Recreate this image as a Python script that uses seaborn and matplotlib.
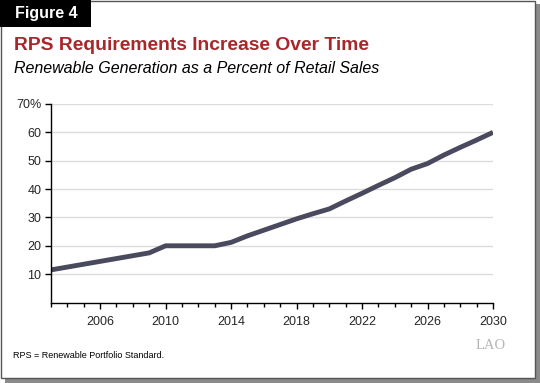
import matplotlib
matplotlib.use("Agg")
import matplotlib.pyplot as plt
import matplotlib.patches as mpatches
from matplotlib.ticker import MultipleLocator, FuncFormatter
import seaborn as sns
import pandas as pd

# DATA
years = [2003, 2004, 2005, 2006, 2007, 2008, 2009, 2010, 2011, 2012, 2013, 2014,
         2015, 2016, 2017, 2018, 2019, 2020, 2021, 2022, 2023, 2024, 2025, 2026,
         2027, 2028, 2029, 2030]
rps_pct = [11.5, 12.5, 13.5, 14.5, 15.5, 16.5, 17.5, 20, 20, 20, 20, 21.2,
           23.5, 25.5, 27.5, 29.5, 31.3, 33, 35.8, 38.5, 41.3, 44, 47, 49,
           52, 54.7, 57.3, 60]
y_ticks = [10, 20, 30, 40, 50, 60, 70]
x_ticks = [2006, 2010, 2014, 2018, 2022, 2026, 2030]

title = "RPS Requirements Increase Over Time"
subtitle = "Renewable Generation as a Percent of Retail Sales"
footnote = "RPS = Renewable Portfolio Standard."

df = pd.DataFrame({"year": years, "pct": rps_pct})

sns.set_style("white")
plt.rcParams["font.family"] = ["Liberation Sans", "DejaVu Sans"]

W, H = 540, 383
fig = plt.figure(figsize=(W / 100, H / 100), dpi=100)

# frame with drop shadow (kept behind the axes)
fig.patches.append(mpatches.Rectangle((5 / W, 0), (W - 5) / W, 5 / H, transform=fig.transFigure,
                                      color="#8a8a8a", lw=0, zorder=-3))
fig.patches.append(mpatches.Rectangle((535 / W, 0), 5 / W, (H - 4) / H, transform=fig.transFigure,
                                      color="#8a8a8a", lw=0, zorder=-3))
fig.patches.append(mpatches.Rectangle((0.5 / W, 5 / H), 534.5 / W, (H - 5.5) / H, transform=fig.transFigure,
                                      facecolor="white", edgecolor="#555555", lw=1, zorder=-2))
# "Figure 4" tab
fig.patches.append(mpatches.Rectangle((0, (H - 27) / H), 91 / W, 27 / H, transform=fig.transFigure,
                                      color="black", lw=0, zorder=-1))
fig.text(46 / W, 1 - 13.5 / H, "Figure 4", color="white", fontsize=11.5, fontweight="bold",
         ha="center", va="center")

fig.text(14 / W, 1 - 50 / H, title, color="#a6282b", fontsize=13.9, fontweight="bold",
         ha="left", va="baseline")
fig.text(14 / W, 1 - 73 / H, subtitle, color="black", fontsize=11.5, style="italic",
         ha="left", va="baseline")
fig.text(13 / W, 1 - 358 / H, footnote, color="black", fontsize=6.5, ha="left", va="baseline")
fig.text(506 / W, 1 - 349 / H, "LAO", color="#b5b5b5", fontsize=10.5, ha="right", va="baseline",
         family=["Liberation Serif", "DejaVu Serif"])

ax = fig.add_axes([51 / W, (H - 302.5) / H, 442 / W, 198.5 / H])
ax.set_zorder(5)
ax.patch.set_alpha(0)
sns.lineplot(data=df, x="year", y="pct", ax=ax, color="#4a4a5f", linewidth=3.5,
             solid_capstyle="butt", solid_joinstyle="round")

ax.set_xlim(2003, 2030)
ax.set_ylim(0, 70)
ax.set_yticks(y_ticks)
ax.yaxis.set_major_formatter(FuncFormatter(lambda v, p: f"{int(v)}%" if v == 70 else f"{int(v)}"))
ax.set_xticks(x_ticks)
ax.xaxis.set_minor_locator(MultipleLocator(1))
ax.grid(axis="y", color="#dcdcdc", linewidth=1)
ax.set_axisbelow(True)
for s in ["top", "right"]:
    ax.spines[s].set_visible(False)
for s in ["left", "bottom"]:
    ax.spines[s].set_color("black")
    ax.spines[s].set_linewidth(1)
ax.tick_params(axis="both", which="major", direction="out", length=4, width=1, color="black",
               labelsize=9, left=True, bottom=True)
ax.tick_params(axis="y", which="major", pad=3)
ax.tick_params(axis="x", which="major", pad=6)
ax.tick_params(axis="x", which="minor", direction="out", length=3, width=1, color="black", bottom=True)
ax.set_xlabel("")
ax.set_ylabel("")

fig.savefig("out.png", dpi=100)
